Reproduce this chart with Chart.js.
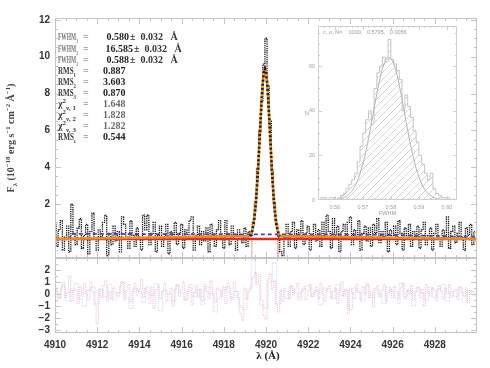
<!DOCTYPE html>
<html>
<head>
<meta charset="utf-8">
<script src="https://cdn.jsdelivr.net/npm/chart.js@4.4.1/dist/chart.umd.min.js"></script>
<style>
html, body { margin: 0; padding: 0; background: #fff; }
#wrap { position: relative; width: 490px; height: 368px; }
#wrap canvas { position: absolute; left: 0; top: 0; }
</style>
</head>
<body>
<div id="wrap">
  <canvas id="main" width="490" height="368"></canvas>
  <canvas id="resid" width="490" height="368"></canvas>
  <canvas id="inset" width="490" height="368"></canvas>
</div>
<script>
// spectrum, sampled every 0.1 A from 4910.0
const specStart = 4910.0;
const specStep = 0.1;
const specFlux = [
  0.9, -0.3, 0.6, 1.1, -0.5, 0.2, 0.8, -0.6, 2.0, 0.4,
  -0.2, 0.7, 1.2, -0.4, 0.3, 0.9, -0.7, 0.5, 1.5, 0.1,
  -0.5, 0.6, 0.2, 1.0, 1.4, -0.8, 0.4, -0.2, 0.8, 0.0,
  0.5, -0.6, 1.3, 0.9, 0.2, -0.4, 1.1, 0.3, -0.3, 0.7,
  0.2, -0.5, 1.4, 0.6, 1.4, -0.2, 0.4, 1.0, -0.6, 0.3,
  0.8, -0.3, 0.1, 0.9, -0.7, 0.5, 0.2, 1.0, -0.2, 0.4,
  0.9, -0.4, 0.6, 0.1, 1.1, 1.3, -0.5, 0.3, 0.8, -0.2,
  0.5, 0.0, 0.7, -0.6, 0.9, 0.3, -0.3, 0.6, 1.1, 0.2,
  -0.4, 1.1, 0.4, -0.2, 0.8, 0.1, -0.5, 0.6, 0.3, -0.1,
  0.7, -0.3, 0.5, 0.3, 1.0, 2.0, 3.9, 5.9, 7.6, 9.6,
  11.0, 8.4, 6.5, 3.8, 2.1, 0.9, 0.2, -0.6, -0.8, 0.2,
  0.9, -0.3, 0.5, 1.0, -0.4, 0.6, 0.2, 1.1, -0.2, 0.4,
  0.8, -0.5, 0.3, 0.9, 0.0, 0.6, -0.3, 1.0, 0.2, 1.4,
  0.5, -0.4, 1.2, 0.3, 0.8, -0.6, 0.5, 0.9, 0.1, 1.0,
  1.3, -0.2, 0.6, 0.2, 1.1, -0.5, 0.4, 0.8, 0.0, 0.7,
  -0.3, 0.9, 0.4, 1.2, -0.1, 0.5, 0.2, 1.0, -0.6, 0.6,
  0.3, 0.8, -0.2, 1.1, 0.4, -0.5, 0.7, 0.1, 0.9, -0.3,
  0.5, 0.2, 0.8, -0.4, 0.6, 1.0, -0.2, 0.3, 0.7, -0.5,
  0.4, 0.9, 0.1, -0.3, 0.6, 0.2, 1.3, -0.4, 0.5, 0.8,
  -0.1, 0.4, 1.0, 0.2, -0.5, 0.7, 0.3, 0.9, -0.2, 0.5
];

// line model around 4919.95 A
const modelLambda = [4910.0, 4919.25, 4919.30, 4919.35, 4919.40, 4919.45, 4919.50, 4919.55, 4919.60,
  4919.65, 4919.70, 4919.75, 4919.80, 4919.85, 4919.90, 4919.95, 4920.00, 4920.05, 4920.10,
  4920.15, 4920.20, 4920.25, 4920.30, 4920.35, 4920.40, 4920.45, 4920.50, 4920.55, 4920.60,
  4920.65, 4930.0];
const modelFlux = [0.1, 0.26, 0.38, 0.57, 0.86, 1.27, 1.84, 2.57, 3.46,
  4.50, 5.62, 6.74, 7.78, 8.62, 9.16, 9.35, 9.16, 8.62, 7.78,
  6.74, 5.62, 4.50, 3.46, 2.57, 1.84, 1.27, 0.86, 0.57, 0.38,
  0.26, 0.1];

const contLambda = [4910.0, 4930.0];
const contFlux = [0.1, 0.1];
const blueLambda = [4910.0, 4910.7, 4910.75, 4925.0, 4930.0];
const blueFlux = [0.1, 0.1, 0.38, 0.34, 0.22];
const maskLambda = [4919.33, 4919.33, 4920.57, 4920.57];
const maskFlux = [-1.0, 0.1, 0.1, -1.0];

// residuals
const residRedStep = 0.1;
const residRed = [
  0.8, 0.2, -0.4, 0.5, 1.0, -0.3, 0.1, 1.5, -0.6, 0.4,
  0.3, -0.8, 0.6, -0.2, 0.9, 0.0, -0.5, 1.0, 0.2, -0.9,
  -2.5, 0.4, -0.3, 0.7, 1.1, -0.6, 0.2, -0.4, 0.5, 0.1,
  -0.2, 0.6, 1.0, -0.5, 0.3, 0.8, -0.7, 0.2, 0.9, -0.1,
  0.4, 1.2, -0.3, 0.5, 0.1, -0.8, 0.6, -1.2, 0.3, 0.7,
  -0.4, 0.2, 0.9, -0.6, 0.0, 0.5, -1.0, 0.4, 0.8, -0.2,
  0.3, 1.0, -0.5, 0.2, 0.6, -0.9, 0.1, 0.7, -0.3, 0.4,
  -0.6, 0.8, 0.2, -0.4, 1.1, 0.0, -0.7, 0.5, 0.3, -0.2,
  0.6, -0.8, 0.9, 0.1, -0.5, 1.0, 0.2, -0.3, -1.6, -2.2,
  0.5, -0.4, 0.2, 0.6, 1.4, 1.8, 0.9, 1.6, -0.5, -1.8,
  -2.1, 1.2, 1.7, 0.4, 1.1, -0.9, -1.5, 0.3, -0.6, 0.5,
  0.2, -0.4, 0.7, -0.1, 0.4, 0.9, -0.3, 0.2, 0.6, -0.5,
  0.3, 0.8, -0.2, 0.1, 0.6, -0.4, 0.9, 0.0, -0.6, 0.4,
  0.7, -0.3, 0.2, 0.5, -0.8, 0.3, 1.0, -0.2, 0.4, -1.7,
  0.5, 0.1, -0.4, 0.8, 0.2, -0.5, 0.6, 0.0, 0.9, -0.3,
  0.2, -1.1, 0.5, 0.7, -0.2, 0.3, 0.8, -0.6, 0.1, 0.4,
  -0.3, 0.6, 0.2, -0.8, 0.5, 0.9, -0.4, 0.3, 0.0, 0.7,
  -0.5, 0.2, 0.6, -0.3, 0.4, -1.0, 0.8, 0.1, -0.2, 0.5,
  0.3, -0.6, 0.7, 0.2, -0.4, 0.5, 0.0, 0.8, -0.3, 0.2,
  0.4, -0.5, 0.6, 0.1, -0.2, 0.5, -0.7, 0.3, 0.2, -0.1
];
const residBlueStep = 0.2;
const residBlue = [
  0.5, -0.3, 0.7, -0.6, 0.2, 0.9, -0.4, -1.0, 0.3, 0.6,
  -0.8, 0.4, -0.2, 0.8, -0.5, 0.1, 1.0, -0.3, -1.2, 0.5,
  0.2, -0.7, 0.6, -0.1, 0.9, -1.4, 0.3, 0.0, -0.6, 0.7,
  0.1, -0.5, 0.8, -0.2, 0.4, -0.9, 0.6, 0.0, -1.5, -0.4,
  0.3, 0.6, -0.3, 0.2, -1.0, -1.3, 0.4, 2.9, 0.8, -0.9,
  -1.2, 1.0, 2.6, -0.8, 0.3, -0.4, 0.6, 0.1, -0.5, 0.4,
  0.7, -0.2, 0.3, -0.9, 0.5, 0.2, -0.4, 0.8, -0.1, 0.3,
  -1.3, 0.5, 0.1, -0.6, 0.7, -0.3, 0.4, 0.0, -0.8, 0.6,
  0.2, -0.4, 0.9, -0.2, 0.3, -1.0, 0.5, 0.1, -0.5, 0.6,
  -0.3, 0.4, 0.8, -0.6, 0.2, -0.2, 0.5, -0.7, 0.3, 0.1
];

// bootstrap histogram of FWHM
const histStart = 0.555;
const histBin = 0.001;
const histCounts = [1, 1, 0, 1, 1, 0, 1, 2, 3, 5, 7, 9, 12, 17, 24, 30, 36, 40, 34, 50,
  57, 60, 64, 62, 72, 63, 61, 58, 54, 40, 47, 42, 37, 31, 26, 20, 16, 12, 9, 12,
  5, 3, 2, 1, 1, 1, 0];
const fitX = [0.555, 0.557, 0.559, 0.561, 0.563, 0.565, 0.567, 0.569, 0.571, 0.573, 0.575, 0.577,
  0.579, 0.581, 0.583, 0.585, 0.587, 0.589, 0.591, 0.593, 0.595, 0.597, 0.599, 0.601, 0.603];
const fitY = [0.0, 0.02, 0.09, 0.31, 0.92, 2.46, 5.75, 11.8, 21.3, 34.0, 47.7, 58.8,
  63.9, 61.1, 51.5, 38.1, 24.9, 14.3, 7.2, 3.2, 1.26, 0.43, 0.13, 0.03, 0.0];

const statLines = [
  { lab: [['FWHM', ''], ['1', 'b']], val: '0.580', err: '± 0.032 Å' },
  { lab: [['FWHM', ''], ['2', 'b']], val: '16.585', err: '± 0.032 Å' },
  { lab: [['FWHM', ''], ['3', 'b']], val: '0.588', err: '± 0.032 Å' },
  { lab: [['RMS', ''], ['1', 'b']], val: '0.887' },
  { lab: [['RMS', ''], ['2', 'b']], val: '3.603' },
  { lab: [['RMS', ''], ['3', 'b']], val: '0.870' },
  { lab: [['χ', ''], ['2', 'p'], ['ν, 1', 'b']], val: '1.648' },
  { lab: [['χ', ''], ['2', 'p'], ['ν, 2', 'b']], val: '1.828' },
  { lab: [['χ', ''], ['2', 'p'], ['ν, 3', 'b']], val: '1.282' },
  { lab: [['RMS', ''], ['c', 'b']], val: '0.544' }
];
const yTitle = [['F', ''], ['λ', 'b'], [' (10', ''], ['−18', 'p'], [' erg s', ''], ['−1', 'p'],
  [' cm', ''], ['−2', 'p'], [' Å', ''], ['−1', 'p'], [')', '']];

const SERIF = '"Liberation Serif", "DejaVu Serif", serif';
const SANS = '"Liberation Sans", Arial, sans-serif';
const FRAME = '#c4c4c4';

function pts(xs, ys) { return ys.map((y, i) => ({ x: xs[i], y: y })); }
function grid(start, step, ys) { return ys.map((y, i) => ({ x: +(start + i * step).toFixed(4), y: y })); }

function drawRich(ctx, parts, x, y, size, color, weight) {
  ctx.fillStyle = color;
  ctx.textBaseline = 'alphabetic';
  let cx = x;
  parts.forEach(p => {
    let s = size, dy = 0;
    if (p[1] === 'b') { s = size * 0.68; dy = size * 0.3; }
    if (p[1] === 'p') { s = size * 0.68; dy = -size * 0.45; }
    ctx.font = (weight || 'bold') + ' ' + s + 'px ' + SERIF;
    ctx.fillText(p[0], cx, y + dy);
    cx += ctx.measureText(p[0]).width;
  });
  return cx;
}
function richWidth(ctx, parts, size, weight) {
  let w = 0;
  parts.forEach(p => {
    const s = p[1] ? size * 0.68 : size;
    ctx.font = (weight || 'bold') + ' ' + s + 'px ' + SERIF;
    w += ctx.measureText(p[0]).width;
  });
  return w;
}

// box and inward ticks, IDL style
const frameTicks = {
  id: 'frameTicks',
  afterDatasetsDraw(chart, args, o) {
    const { ctx, chartArea: a } = chart;
    const xs = chart.scales.x, ys = chart.scales.y;
    ctx.save();
    ctx.strokeStyle = o.color || FRAME;
    ctx.lineWidth = 1;
    ctx.strokeRect(a.left + 0.5, a.top + 0.5, a.right - a.left - 1, a.bottom - a.top - 1);
    ctx.beginPath();
    const xt = (v, len) => {
      const p = Math.round(xs.getPixelForValue(v)) + 0.5;
      if (p < a.left || p > a.right) return;
      ctx.moveTo(p, a.bottom); ctx.lineTo(p, a.bottom - len);
      ctx.moveTo(p, a.top); ctx.lineTo(p, a.top + len);
    };
    const yt = (v, len) => {
      const p = Math.round(ys.getPixelForValue(v)) + 0.5;
      if (p < a.top || p > a.bottom) return;
      ctx.moveTo(a.left, p); ctx.lineTo(a.left + len, p);
      ctx.moveTo(a.right, p); ctx.lineTo(a.right - len, p);
    };
    for (let v = Math.ceil(xs.min / o.xMinor) * o.xMinor; v <= xs.max; v += o.xMinor) xt(v, o.minor);
    for (let v = Math.ceil(ys.min / o.yMinor) * o.yMinor; v <= ys.max; v += o.yMinor) yt(v, o.minor);
    xs.ticks.forEach(t => xt(t.value, o.major));
    ys.ticks.forEach(t => yt(t.value, o.major));
    ctx.stroke();
    ctx.restore();
  }
};

const commonOpts = {
  responsive: false,
  animation: false,
  devicePixelRatio: 1,
  events: []
};

// ---------- main panel ----------
const mainText = {
  id: 'mainText',
  afterDraw(chart) {
    const ctx = chart.ctx;
    ctx.save();
    const rowY = [40, 52, 63, 74, 85, 96, 107, 118, 129, 140];
    const labW = [20, 20, 20, 18, 18, 18, 19, 19, 19, 18];
    statLines.forEach((r, i) => {
      const y = rowY[i];
      const lw = richWidth(ctx, r.lab, 10);
      ctx.save();
      ctx.translate(58, y);
      ctx.scale(Math.min(1, labW[i] / lw), 1);
      drawRich(ctx, r.lab, 0, 0, 10, i < 3 ? '#777' : '#3a3a3a');
      ctx.restore();
      ctx.font = 'bold 10px ' + SERIF;
      ctx.fillStyle = '#999';
      ctx.textAlign = 'left';
      ctx.fillText('=', 83, y);
      ctx.fillStyle = i >= 6 && i < 9 ? '#6a6a6a' : '#222';
      if (r.err) {
        ctx.textAlign = 'right';
        const right = r.val.length > 5 ? 133 : 129;
        ctx.fillText(r.val, right, y);
        ctx.textAlign = 'left';
        ctx.fillStyle = '#333';
        ctx.fillText(r.err.replace(' ', '  ').replace(' Å', '   Å'), right + 1, y);
      } else {
        ctx.fillText(r.val, 103, y);
      }
    });
    // y axis title
    ctx.translate(14, 138);
    ctx.rotate(-Math.PI / 2);
    const w = richWidth(ctx, yTitle, 10);
    drawRich(ctx, yTitle, -w / 2, 0, 10, '#444');
    ctx.restore();
  }
};

new Chart(document.getElementById('main'), {
  type: 'line',
  data: {
    datasets: [
      { data: pts(modelLambda, modelFlux).slice(1, -1), borderColor: '#1c1c1c', borderWidth: 2.6,
        borderDash: [2, 2.2], order: 1 },
      { data: pts(modelLambda, modelFlux).slice(1, -1), borderColor: '#ffe14a', borderWidth: 1.2,
        borderDash: [1, 5], order: 2 },
      { data: pts(modelLambda, modelFlux), borderColor: '#f08a1c', borderWidth: 2.6, order: 3 },
      { data: pts(contLambda, contFlux), borderColor: '#e8291c', borderWidth: 2.4, order: 4 },
      { data: pts(maskLambda, maskFlux), borderColor: '#ff9a9a', borderWidth: 1, order: 5 },
      { data: pts(blueLambda, blueFlux), borderColor: '#2b49e0', borderWidth: 1.8,
        borderDash: [4, 3], order: 6 },
      { data: grid(specStart, specStep, specFlux), borderColor: '#151515', borderWidth: 1.3,
        borderDash: [1.3, 0.9], stepped: 'middle', order: 7 }
    ]
  },
  options: Object.assign({}, commonOpts, {
    layout: { padding: { left: 0, right: 13, top: 18, bottom: 110 } },
    elements: { point: { radius: 0 }, line: { tension: 0 } },
    plugins: {
      legend: { display: false }, tooltip: { enabled: false },
      frameTicks: { xMinor: 0.5, yMinor: 0.5, major: 6, minor: 3 }
    },
    scales: {
      x: { type: 'linear', min: 4910, max: 4930, display: false,
        afterBuildTicks: s => { s.ticks = [4910, 4912, 4914, 4916, 4918, 4920, 4922, 4924, 4926, 4928].map(v => ({ value: v })); } },
      y: { type: 'linear', min: -0.93, max: 12.1,
        afterBuildTicks: s => { s.ticks = [2, 4, 6, 8, 10, 12].map(v => ({ value: v })); },
        afterFit: s => { s.width = 55; },
        grid: { display: false, drawTicks: false },
        border: { display: false },
        ticks: { padding: 5, color: '#333', font: { family: SANS, weight: 'bold', size: 10 },
          callback: v => String(v) } }
    }
  }),
  plugins: [frameTicks, mainText]
});

// ---------- residual panel ----------
const residText = {
  id: 'residText',
  afterDraw(chart) {
    const ctx = chart.ctx;
    ctx.save();
    const parts = [['λ (Å)', '']];
    const w = richWidth(ctx, parts, 11);
    drawRich(ctx, parts, 268 - w / 2, 359, 11, '#222');
    ctx.restore();
  }
};

new Chart(document.getElementById('resid'), {
  type: 'line',
  data: {
    datasets: [
      { data: grid(specStart, residRedStep, residRed), borderColor: 'rgba(228,120,150,0.5)',
        borderWidth: 1, borderDash: [1, 1], stepped: 'middle', order: 1 },
      { data: grid(specStart, residBlueStep, residBlue), borderColor: 'rgba(130,140,240,0.4)',
        borderWidth: 1, borderDash: [1, 1], stepped: 'middle', order: 2 }
    ]
  },
  options: Object.assign({}, commonOpts, {
    layout: { padding: { left: 0, right: 13, top: 258, bottom: 0 } },
    elements: { point: { radius: 0 }, line: { tension: 0 } },
    plugins: {
      legend: { display: false }, tooltip: { enabled: false },
      frameTicks: { xMinor: 0.5, yMinor: 0.5, major: 6, minor: 3 }
    },
    scales: {
      x: { type: 'linear', min: 4910, max: 4930,
        afterBuildTicks: s => { s.ticks = [4910, 4912, 4914, 4916, 4918, 4920, 4922, 4924, 4926, 4928].map(v => ({ value: v })); },
        afterFit: s => { s.height = 35; },
        grid: { display: false, drawTicks: false },
        border: { display: false },
        ticks: { padding: 6, maxRotation: 0, autoSkip: false, color: '#333',
          font: { family: SANS, weight: 'bold', size: 10 }, callback: v => String(v) } },
      y: { type: 'linear', min: -3.25, max: 3.0,
        afterBuildTicks: s => { s.ticks = [-3, -2, -1, 0, 1, 2].map(v => ({ value: v })); },
        afterFit: s => { s.width = 55; },
        grid: { display: false, drawTicks: false },
        border: { display: false },
        ticks: { padding: 5, autoSkip: false, color: '#333',
          font: { family: SANS, weight: 'bold', size: 10 },
          callback: v => (v < 0 ? '−' + Math.abs(v) : String(v)) } }
    }
  }),
  plugins: [frameTicks, residText]
});

// ---------- inset histogram ----------
function hatchPattern() {
  const c = document.createElement('canvas');
  c.width = 7; c.height = 7;
  const g = c.getContext('2d');
  g.strokeStyle = '#c9c9c9';
  g.lineWidth = 0.8;
  g.beginPath();
  g.moveTo(0, 7); g.lineTo(7, 0);
  g.moveTo(-1, 1); g.lineTo(1, -1);
  g.moveTo(6, 8); g.lineTo(8, 6);
  g.stroke();
  return g.createPattern(c, 'repeat');
}

const histData = [{ x: histStart, y: 0 }].concat(
  histCounts.map((c, i) => ({ x: +(histStart + i * histBin).toFixed(4), y: c })),
  [{ x: +(histStart + histCounts.length * histBin).toFixed(4), y: histCounts[histCounts.length - 1] },
   { x: +(histStart + histCounts.length * histBin).toFixed(4), y: 0 }]
);

const insetDeco = {
  id: 'insetDeco',
  beforeDraw(chart) {
    const { ctx, chartArea: a } = chart;
    ctx.save();
    ctx.fillStyle = '#fff';
    ctx.fillRect(a.left, a.top, a.right - a.left, a.bottom - a.top);
    ctx.restore();
  },
  afterDraw(chart) {
    const { ctx, chartArea: a } = chart;
    ctx.save();
    ctx.fillStyle = '#9a9a9a';
    ctx.font = '5.5px ' + SANS;
    ctx.textBaseline = 'middle';
    ctx.fillText('c, σ, N=    1000,   0.5795,   0.0056', a.left + 5, a.top + 6);
    ctx.textAlign = 'center';
    ctx.fillText('FWHM', (a.left + a.right) / 2, a.bottom + 13);
    ctx.fillText('N', a.left - 11, (a.top + a.bottom) / 2);
    ctx.restore();
  }
};

new Chart(document.getElementById('inset'), {
  type: 'line',
  data: {
    datasets: [
      { data: pts(fitX, fitY), borderColor: '#b5b5b5', borderWidth: 1, tension: 0.4,
        cubicInterpolationMode: 'monotone', order: 1 },
      { data: histData, borderColor: '#b8b8b8', borderWidth: 0.8, stepped: true,
        fill: 'origin', backgroundColor: hatchPattern(), order: 2 }
    ]
  },
  options: Object.assign({}, commonOpts, {
    layout: { padding: { left: 300, right: 33, top: 26, bottom: 154 } },
    elements: { point: { radius: 0 } },
    plugins: {
      legend: { display: false }, tooltip: { enabled: false }, filler: { propagate: false },
      frameTicks: { xMinor: 0.002, yMinor: 5, major: 4, minor: 2, color: '#cfcfcf' }
    },
    scales: {
      x: { type: 'linear', min: 0.554, max: 0.6036,
        afterBuildTicks: s => { s.ticks = [0.56, 0.57, 0.58, 0.59, 0.60].map(v => ({ value: v })); },
        afterFit: s => { s.height = 14; },
        grid: { display: false, drawTicks: false },
        border: { display: false },
        ticks: { padding: 4, maxRotation: 0, autoSkip: false, color: '#a0a0a0',
          font: { family: SANS, size: 5.5 }, callback: v => v.toFixed(2) } },
      y: { type: 'linear', min: 0, max: 78,
        afterBuildTicks: s => { s.ticks = [0, 20, 40, 60].map(v => ({ value: v })); },
        afterFit: s => { s.width = 18; },
        grid: { display: false, drawTicks: false },
        border: { display: false },
        ticks: { padding: 3, autoSkip: false, color: '#a0a0a0',
          font: { family: SANS, size: 5.5 }, callback: v => String(v) } }
    }
  }),
  plugins: [frameTicks, insetDeco]
});
</script>
</body>
</html>
